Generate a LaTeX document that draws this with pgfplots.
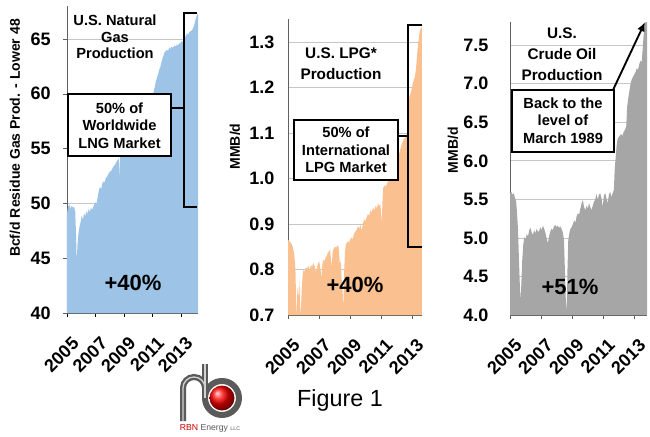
\documentclass[border=0pt]{standalone}
\usepackage{pgfplots}
\pgfplotsset{compat=1.18}
\usepackage{fontspec}
\setmainfont{Liberation Sans}
\usetikzlibrary{arrows.meta,shadings}

\definecolor{gasblue}{HTML}{9DC3E6}
\definecolor{lpgorange}{HTML}{FAC090}
\definecolor{oilgray}{HTML}{A6A6A6}
\definecolor{pipegray}{HTML}{5A5A5A}

\pgfplotsset{
  panel/.style={
    scale only axis, anchor=south west,
    axis x line=bottom, axis y line=left,
    axis line style={-, draw=gray!75!black, line width=0.6pt},
    ymajorgrids, grid style={gray!45, line width=0.5pt},
    tick align=outside,
    major tick length=3pt, minor tick length=3pt,
    /pgf/number format/assume math mode=true,
    tick label style={font=\bfseries\fontsize{13.5}{14}\selectfont},
    x tick label style={/pgf/number format/1000 sep={}},
    xticklabel style={inner sep=0pt, xshift=6.5pt, yshift=-17.5pt, rotate=45, anchor=east},
    ylabel style={font=\bfseries\fontsize{10.5}{12}\selectfont, anchor=center},
    xtick={2005,2007,...,2013},
    xmin=2005,
  },
}

\begin{document}
\begin{tikzpicture}[x=0.75pt,y=-0.75pt]
\path[use as bounding box] (0,0) rectangle (650,436);

% ---------------- Natural gas ----------------
\begin{axis}[panel,
  at={(50.25pt,-234.75pt)}, width=98.25pt, height=230.2pt,
  xmax=2014.2, ymin=40, ymax=68,
  ytick={40,45,...,65},
  minor x tick num=11,
  xtick style={draw=black, line width=0.6pt},
  ytick style={draw=gray!75!black},
  yticklabel style={inner sep=0pt, xshift=-9pt},
  ylabel={Bcf/d Residue Gas Prod. - Lower 48},
  ylabel style={at={(axis description cs:-0.397,0.57)}},
]
\addplot[fill=gasblue, draw=none] coordinates {
(2005.00,49.1) (2005.08,49.7) (2005.17,49.9) (2005.25,49.5) (2005.33,49.8)
(2005.42,49.6) (2005.50,49.7) (2005.58,49.2) (2005.64,47.0) (2005.68,44.6)
(2005.74,46.3) (2005.80,47.2) (2005.88,47.9) (2005.96,48.3) (2006.04,48.9)
(2006.12,48.5) (2006.20,49.1) (2006.28,48.8) (2006.36,49.3) (2006.44,49.0)
(2006.52,49.5) (2006.60,49.2) (2006.68,49.6) (2006.76,49.4) (2006.85,49.7)
(2006.92,49.9) (2007.00,50.1) (2007.08,50.0) (2007.16,50.6) (2007.24,51.2)
(2007.32,51.5) (2007.40,51.3) (2007.48,51.8) (2007.56,52.0) (2007.64,51.9)
(2007.72,52.3) (2007.80,52.4) (2007.88,52.6) (2007.96,52.8) (2008.04,52.9)
(2008.12,53.0) (2008.20,53.2) (2008.28,53.4) (2008.36,53.5) (2008.44,53.7)
(2008.52,53.9) (2008.60,54.0) (2008.66,54.2) (2008.70,52.0) (2008.74,54.3)
(2008.82,54.8) (2008.90,55.1) (2008.98,55.3) (2009.06,55.5) (2009.14,55.7)
(2009.20,55.8) (2009.28,56.1) (2009.36,56.3) (2009.44,56.5) (2009.52,56.6)
(2009.60,56.8) (2009.67,57.0) (2009.76,57.2) (2009.84,57.4) (2009.92,57.5)
(2010.00,57.6) (2010.07,57.8) (2010.14,57.9) (2010.22,58.1) (2010.30,58.2)
(2010.38,58.4) (2010.46,58.5) (2010.54,58.7) (2010.61,58.8) (2010.68,59.0)
(2010.76,59.3) (2010.84,59.5) (2010.92,59.7) (2011.00,59.9) (2011.08,60.1)
(2011.16,60.6) (2011.24,61.1) (2011.32,61.5) (2011.40,61.8) (2011.48,62.2)
(2011.55,62.4) (2011.62,62.8) (2011.70,63.2) (2011.78,63.5) (2011.86,63.8)
(2011.94,63.9) (2012.02,64.0) (2012.10,63.9) (2012.18,64.2) (2012.26,64.1)
(2012.34,64.3) (2012.42,64.2) (2012.49,64.3) (2012.56,64.4) (2012.64,64.3)
(2012.72,64.5) (2012.80,64.4) (2012.88,64.6) (2012.96,64.6) (2013.04,64.8)
(2013.12,64.7) (2013.19,64.9) (2013.27,65.1) (2013.35,65.3) (2013.43,65.5)
(2013.51,65.4) (2013.59,65.6) (2013.67,65.7) (2013.78,65.8) (2013.86,66.0)
(2013.94,66.3) (2014.01,66.7) (2014.08,67.0) (2014.13,67.2) (2014.20,67.3)
} \closedcycle;
\end{axis}

% ---------------- LPG ----------------
\begin{axis}[panel,
  at={(216pt,-236.25pt)}, width=100.5pt, height=221.8pt,
  xmax=2013.65, ymin=0.7, ymax=1.35,
  ytick={0.7,0.8,...,1.31},
  xtick style={draw=gray!75!black},
  ytick style={draw=none},
  yticklabel style={inner sep=0pt, xshift=-7pt,
    /pgf/number format/.cd, fixed, fixed zerofill, precision=1},
  ylabel={MMB/d},
  ylabel style={at={(axis description cs:-0.396,0.57)}},
]
\addplot[fill=lpgorange, draw=none] coordinates {
(2005.00,0.865) (2005.10,0.862) (2005.20,0.858) (2005.30,0.850) (2005.40,0.835)
(2005.48,0.800) (2005.53,0.720) (2005.56,0.700) (2005.61,0.760) (2005.67,0.740)
(2005.73,0.775) (2005.78,0.720) (2005.82,0.700) (2005.88,0.750) (2005.94,0.785)
(2006.00,0.800) (2006.08,0.795) (2006.16,0.805) (2006.24,0.802) (2006.32,0.808)
(2006.40,0.798) (2006.48,0.810) (2006.56,0.806) (2006.63,0.814) (2006.72,0.808)
(2006.80,0.795) (2006.85,0.800) (2006.92,0.812) (2007.00,0.818) (2007.06,0.810)
(2007.12,0.795) (2007.17,0.780) (2007.22,0.812) (2007.30,0.822) (2007.38,0.818)
(2007.44,0.830) (2007.49,0.827) (2007.56,0.836) (2007.64,0.840) (2007.71,0.843)
(2007.77,0.825) (2007.82,0.805) (2007.88,0.838) (2007.95,0.846) (2008.03,0.850)
(2008.10,0.848) (2008.18,0.852) (2008.25,0.853) (2008.31,0.830) (2008.35,0.810)
(2008.41,0.820) (2008.46,0.780) (2008.52,0.760) (2008.57,0.710) (2008.62,0.790)
(2008.68,0.840) (2008.74,0.855) (2008.79,0.858) (2008.88,0.862) (2008.95,0.860)
(2009.00,0.865) (2009.08,0.870) (2009.16,0.866) (2009.24,0.876) (2009.32,0.882)
(2009.43,0.887) (2009.52,0.895) (2009.60,0.890) (2009.68,0.898) (2009.76,0.885)
(2009.84,0.902) (2009.92,0.910) (2010.00,0.906) (2010.08,0.915) (2010.16,0.922)
(2010.24,0.918) (2010.32,0.930) (2010.40,0.925) (2010.50,0.936) (2010.58,0.930)
(2010.66,0.940) (2010.74,0.935) (2010.82,0.944) (2010.90,0.940) (2010.96,0.943)
(2011.02,0.920) (2011.05,0.900) (2011.10,0.950) (2011.15,0.980) (2011.24,0.985)
(2011.32,0.982) (2011.40,0.990) (2011.48,0.994) (2011.58,0.997) (2011.66,1.000)
(2011.74,1.006) (2011.82,1.015) (2011.92,1.026) (2012.01,1.034) (2012.10,1.045)
(2012.18,1.055) (2012.26,1.066) (2012.34,1.075) (2012.44,1.085) (2012.52,1.088)
(2012.60,1.092) (2012.66,1.095) (2012.70,1.110) (2012.76,1.150) (2012.84,1.180)
(2012.92,1.188) (2012.98,1.195) (2013.06,1.210) (2013.13,1.218) (2013.19,1.223)
(2013.26,1.240) (2013.34,1.275) (2013.41,1.298) (2013.47,1.315) (2013.52,1.326)
(2013.58,1.330) (2013.65,1.332)
} \closedcycle;
\end{axis}

% ---------------- Crude oil ----------------
\begin{axis}[panel,
  at={(382.5pt,-236.25pt)}, width=102.75pt, height=219.7pt,
  xmax=2013.84, ymin=4.0, ymax=7.8,
  ytick={4.0,4.5,...,7.5},
  xtick style={draw=gray!75!black},
  ytick style={draw=none},
  yticklabel style={inner sep=0pt, xshift=-13pt,
    /pgf/number format/.cd, fixed, fixed zerofill, precision=1},
  ylabel={MMB/d},
  ylabel style={at={(axis description cs:-0.416,0.563)}},
]
\addplot[fill=oilgray, draw=none] coordinates {
(2005.00,5.58) (2005.08,5.60) (2005.16,5.56) (2005.24,5.58) (2005.32,5.52)
(2005.40,5.47) (2005.46,5.30) (2005.52,5.10) (2005.58,4.70) (2005.64,4.36)
(2005.69,4.19) (2005.74,4.45) (2005.79,4.71) (2005.85,4.90) (2005.92,5.01)
(2006.00,4.98) (2006.08,5.05) (2006.16,5.02) (2006.24,5.10) (2006.32,5.13)
(2006.40,5.07) (2006.48,5.04) (2006.56,5.10) (2006.64,5.06) (2006.72,5.12)
(2006.80,5.08) (2006.88,5.09) (2006.96,5.14) (2007.04,5.10) (2007.12,5.16)
(2007.20,5.12) (2007.28,5.07) (2007.36,5.00) (2007.44,4.93) (2007.52,5.02)
(2007.60,5.08) (2007.68,5.12) (2007.76,5.10) (2007.84,5.15) (2007.92,5.17)
(2008.00,5.14) (2008.08,5.16) (2008.16,5.13) (2008.24,5.15) (2008.32,5.12)
(2008.40,5.08) (2008.48,4.98) (2008.54,4.60) (2008.60,4.20) (2008.66,4.06)
(2008.71,4.60) (2008.76,4.97) (2008.82,5.05) (2008.90,5.12) (2008.98,5.14)
(2009.06,5.18) (2009.14,5.23) (2009.22,5.20) (2009.30,5.28) (2009.38,5.32)
(2009.46,5.30) (2009.54,5.38) (2009.62,5.45) (2009.70,5.49) (2009.78,5.40)
(2009.86,5.36) (2009.94,5.42) (2010.02,5.38) (2010.10,5.45) (2010.18,5.40)
(2010.26,5.36) (2010.34,5.42) (2010.42,5.47) (2010.50,5.50) (2010.58,5.57)
(2010.66,5.50) (2010.74,5.56) (2010.82,5.58) (2010.90,5.52) (2010.98,5.40)
(2011.06,5.55) (2011.14,5.58) (2011.22,5.52) (2011.30,5.45) (2011.38,5.56)
(2011.46,5.60) (2011.54,5.53) (2011.62,5.58) (2011.70,5.62) (2011.76,5.90)
(2011.82,6.05) (2011.88,6.20) (2011.94,6.28) (2012.02,6.31) (2012.10,6.33)
(2012.18,6.35) (2012.26,6.32) (2012.34,6.38) (2012.42,6.40) (2012.50,6.45)
(2012.56,6.70) (2012.62,6.80) (2012.70,6.90) (2012.78,7.00) (2012.86,7.06)
(2012.94,7.09) (2013.02,7.12) (2013.10,7.15) (2013.18,7.20) (2013.26,7.18)
(2013.34,7.25) (2013.42,7.30) (2013.50,7.28) (2013.56,7.45) (2013.62,7.62)
(2013.70,7.78) (2013.78,7.82) (2013.84,7.85)
} \closedcycle;
\end{axis}

% ---------------- annotations ----------------
\tikzset{
  ttl/.style={font=\bfseries\fontsize{11}{12.4}\selectfont, align=center, inner sep=0pt},
  ttlb/.style={font=\bfseries\fontsize{11.5}{15.75}\selectfont, align=center, inner sep=0pt},
  boxtxt/.style={font=\bfseries\fontsize{11}{13}\selectfont, align=center, inner sep=0pt},
  pct/.style={font=\bfseries\fontsize{16.5}{18}\selectfont, inner sep=0pt},
}

% natural gas
\node[ttl] at (115,37) {U.S. Natural\\Gas\\Production};
\draw[line width=1.5pt] (197,13) -- (184,13) -- (184,207) -- (197,207);
\draw[line width=1.5pt] (171,108) -- (184,108);
\draw[fill=white, line width=0.8pt] (68,94) rectangle (171,156);
\node[boxtxt] at (119.5,125.5) {50\% of\\Worldwide\\LNG Market};
\node[pct] at (133,283) {+40\%};

% LPG
\node[ttlb] at (341,64) {U.S. LPG*\\Production};
\draw[line width=1.5pt] (422,25) -- (408,25) -- (408,247) -- (422,247);
\draw[line width=1.5pt] (398,136) -- (408,136);
\draw[fill=white, line width=0.8pt] (294,120) rectangle (398,180);
\node[boxtxt] at (346,150) {50\% of\\International\\LPG Market};
\node[pct] at (355,285) {+40\%};

% crude oil
\node[ttlb] at (562,54) {U.S.\\Crude Oil\\Production};
\draw[fill=white, line width=0.8pt] (512,90) rectangle (614,152);
\node[boxtxt] at (563,120.5) {Back to the\\level of\\March 1989};
\draw[line width=1.4pt, -{Latex[length=7pt,width=6pt]}] (613,90) -- (645,22);
\node[pct] at (570,287) {+51\%};

% logo and caption
\draw[pipegray, line width=4.5pt] (205,364) -- (205,398);
\draw[pipegray, line width=4.5pt] (222,398) circle (17);
\draw[pipegray, line width=4.5pt] (183,421) -- (183,388) arc (180:360:11);
\draw[gray!35, line width=1pt] (205,364) -- (205,398);
\draw[gray!35, line width=1pt] (183,421) -- (183,388) arc (180:360:11);
\shade[ball color=red] (222,398) circle (12.5);
\node[font=\fontsize{6.5}{7}\selectfont, inner sep=0pt] at (210,428)
  {{\color{red!80!black}RBN} {\color{pipegray}Energy} {\color{pipegray}\fontsize{4}{5}\selectfont LLC}};
\node[font=\fontsize{17.5}{20}\selectfont, inner sep=0pt] at (340,400) {Figure 1};
\end{tikzpicture}
\end{document}
